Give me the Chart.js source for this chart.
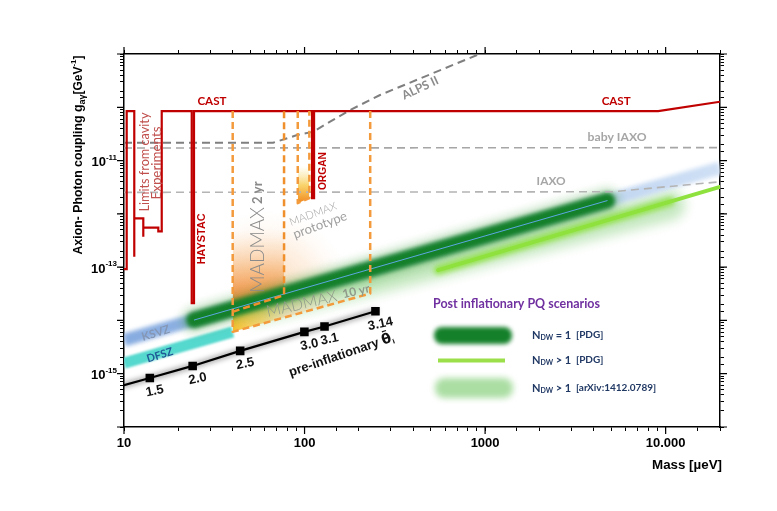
<!DOCTYPE html>
<html>
<head>
<meta charset="utf-8">
<script src="https://cdn.jsdelivr.net/npm/chart.js@4.4.1/dist/chart.umd.min.js"></script>
<style>
  html, body { margin: 0; padding: 0; background: #fff; }
  canvas { display: block; }
</style>
</head>
<body>
<canvas id="grafico" width="777" height="511"></canvas>
<script>
// ejes
const massMin = 10, massMax = 20000;
const gMin = 1e-16, gMax = 1e-9;
const massLabelValues = [10, 100, 1000, 10000];
const massLabelText = ['10', '100', '1000', '10.000'];
const gLabelValues = [1e-11, 1e-13, 1e-15];
const gLabelExp = ['-11', '-13', '-15'];

// CAST + limites de cavidades (HAYSTAC, ORGAN)
const castMass = [10, 10.35, 10.35, 11.4, 11.4, 11.4, 12.79, 12.79, 12.79, 15.49, 15.49, 16.18, 16.18, 23.72, 23.72, 24.42, 24.42, 110, 110, 112.9, 112.9, 9090, 20000];
const castG = [9.2e-14, 9.2e-14, 8.5e-11, 8.5e-11, 1.56e-13, 8.2e-13, 8.2e-13, 3.7e-13, 5.5e-13, 5.5e-13, 4.7e-13, 4.7e-13, 8.5e-11, 8.5e-11, 2.1e-14, 2.1e-14, 8.5e-11, 8.5e-11, 1.98e-12, 1.98e-12, 8.5e-11, 8.5e-11, 1.27e-10];

// proyecciones (discontinuas)
const alpsMass = [10, 66.9, 90.9, 111.4, 138.5, 178.7, 262, 903, 1100];
const alpsG = [2.16e-11, 2.16e-11, 3.01e-11, 3.47e-11, 5.36e-11, 8.88e-11, 1.7e-10, 9.58e-10, 1.27e-9];
const babyIaxoMass = [10, 20000];
const babyIaxoG = [1.72e-11, 1.75e-11];
const iaxoMass = [10, 5100, 20000];
const iaxoG = [2.53e-12, 2.6e-12, 4.0e-12];

// modelos
const ksvzMass = [10, 20000];
const ksvzG = [4.27e-15, 7.24e-12];
const dfszMass = [10, 40];
const dfszG = [1.58e-15, 6.1e-15];

// escenarios post-inflacionarios
const ndw1Mass = [24.5, 4740];
const ndw1G = [1.02e-14, 1.77e-12];
const ndwPdgMass = [550, 20000];
const ndwPdgG = [8.8e-14, 3.2e-12];
const ndwPdgWideMass = [550, 10600];
const ndwPdgWideG = [8.8e-14, 1.7e-12];
const ndwArxivMass = [55, 10600];
const ndwArxivG = [1.7e-14, 1.46e-12];

// pre-inflacionario
const preMass = [10, 13.9, 24.0, 44, 99.8, 129, 247];
const preG = [6.1e-16, 8.3e-16, 1.4e-15, 2.68e-15, 6.1e-15, 7.7e-15, 1.49e-14];
const preTheta = ['', '1.5', '2.0', '2.5', '3.0', '3.1', '3.14'];

// MADMAX
const madmaxTop = 8.5e-11;
const mm10Mass = [40, 40, 231, 231];
const mm10G = [madmaxTop, 6.1e-15, 3.2e-14, madmaxTop];
const mm10LowMass = [40, 231];
const mm10LowG = [6.1e-15, 3.2e-14];
const mm10TopG = [madmaxTop, madmaxTop];
const mm2Mass = [40, 77, 77];
const mm2G = [1.45e-14, 2.98e-14, madmaxTop];
const mm2LowMass = [40, 77];
const mm2LowG = [1.45e-14, 2.98e-14];
const mmYellowLowG = [6.1e-15, 1.15e-14];
const protoMass = [91.7, 91.7, 106.3, 106.3];
const protoG = [madmaxTop, 1.59e-12, 1.98e-12, madmaxTop];
const protoLowMass = [91.7, 106.3];
const protoLowG = [1.59e-12, 1.98e-12];

const SANS = 'Liberation Sans';
const CAL = 'Lato';

function pts(ms, gs) { return ms.map((m, i) => ({x: m, y: gs[i]})); }

function gradV(chart, gFrom, gTo, stops) {
  const ys = chart.scales.y;
  if (!chart.chartArea || !ys) return 'rgba(0,0,0,0)';
  const gr = chart.ctx.createLinearGradient(0, ys.getPixelForValue(gFrom), 0, ys.getPixelForValue(gTo));
  stops.forEach(s => gr.addColorStop(s[0], s[1]));
  return gr;
}
function gradH(chart, mFrom, mTo, stops) {
  const xs = chart.scales.x;
  if (!chart.chartArea || !xs) return 'rgba(0,0,0,0)';
  const gr = chart.ctx.createLinearGradient(xs.getPixelForValue(mFrom), 0, xs.getPixelForValue(mTo), 0);
  stops.forEach(s => gr.addColorStop(s[0], s[1]));
  return gr;
}
function gradR(chart, m, g, r, stops) {
  const xs = chart.scales.x, ys = chart.scales.y;
  if (!chart.chartArea || !xs) return 'rgba(0,0,0,0)';
  const x = xs.getPixelForValue(m), y = ys.getPixelForValue(g);
  const gr = chart.ctx.createRadialGradient(x, y, 0, x, y, r);
  stops.forEach(s => gr.addColorStop(s[0], s[1]));
  return gr;
}

// capas de atras hacia delante
const capas = [];
function add(ds) {
  const base = {pointRadius: 0, pointHoverRadius: 0, fill: false, tension: 0, clip: 0, borderCapStyle: 'round', borderJoinStyle: 'round'};
  const d = Object.assign(base, ds);
  d.order = -capas.length;
  capas.push(d);
  return capas.length - 1;
}

add({label: 'NDW>1 arXiv', data: pts(ndwArxivMass, ndwArxivG), borderColor: 'rgba(150,214,140,0.55)', borderWidth: 30, blur: 6});
add({label: 'KSVZ', data: pts(ksvzMass, ksvzG), borderWidth: 13, blur: 2, borderCapStyle: 'butt',
  borderColor: c => gradH(c.chart, massMin, massMax, [[0, '#86abe0'], [1, '#cfe0f5']])});
add({label: 'DFSZ', data: pts(dfszMass, dfszG), borderColor: '#55d8ce', borderWidth: 11, blur: 1.2, borderCapStyle: 'butt'});
const iTop10 = add({label: 'MADMAX techo', data: pts(mm10LowMass, mm10TopG), borderWidth: 0});
add({label: 'MADMAX 10yr halo', data: pts(mm10LowMass, mm10LowG), borderWidth: 0, fill: {target: iTop10},
  backgroundColor: c => gradR(c.chart, 62, 3e-14, 85, [[0, 'rgba(245,165,90,0.5)'], [0.6, 'rgba(250,200,150,0.25)'], [1, 'rgba(255,230,210,0)']])});
const iMm2 = add({label: 'MADMAX 2yr', data: pts(mm2LowMass, mm2LowG), borderWidth: 0, fill: 'end',
  backgroundColor: c => gradV(c.chart, 2.2e-14, 5e-13, [[0, 'rgba(238,125,38,0.95)'], [0.45, 'rgba(244,165,90,0.55)'], [1, 'rgba(252,215,180,0)']])});
add({label: 'MADMAX 10yr relleno', data: pts(mm2LowMass, mmYellowLowG), borderWidth: 0, fill: {target: iMm2},
  backgroundColor: c => gradH(c.chart, 40, 77, [[0, 'rgba(246,188,35,0.95)'], [0.6, 'rgba(240,205,70,0.6)'], [1, 'rgba(210,220,120,0.15)']])});
add({label: 'prototipo', data: pts(protoLowMass, protoLowG), borderWidth: 0, fill: 'end',
  backgroundColor: c => gradV(c.chart, 1.7e-12, 8e-12, [[0, 'rgba(240,135,25,0.95)'], [0.45, 'rgba(247,195,55,0.75)'], [1, 'rgba(250,225,120,0)']])});
add({label: 'NDW=1 halo', data: pts(ndw1Mass, ndw1G), borderColor: 'rgba(70,160,70,0.35)', borderWidth: 25, blur: 5});
add({label: 'NDW=1', data: pts(ndw1Mass, ndw1G), borderColor: '#14802a', borderWidth: 16, blur: 2});
add({label: 'KSVZ linea', data: pts(ndw1Mass, ndw1G), borderColor: '#5ba7e0', borderWidth: 1});
add({label: 'NDW>1 PDG ancho', data: pts(ndwPdgWideMass, ndwPdgWideG), borderColor: 'rgba(140,226,60,0.85)', borderWidth: 9, blur: 2.5});
add({label: 'NDW>1 PDG', data: pts(ndwPdgMass, ndwPdgG), borderColor: '#8fe23e', borderWidth: 4, blur: 0.5});
add({label: 'baby IAXO', data: pts(babyIaxoMass, babyIaxoG), borderColor: '#a6a6a6', borderWidth: 1.6, borderDash: [8, 5], borderCapStyle: 'butt'});
add({label: 'IAXO', data: pts(iaxoMass, iaxoG), borderColor: '#b4b4b4', borderWidth: 1.6, borderDash: [8, 5], borderCapStyle: 'butt'});
add({label: 'ALPS II', data: pts(alpsMass, alpsG), borderColor: '#7f7f7f', borderWidth: 2, borderDash: [8, 5], borderCapStyle: 'butt'});
add({label: 'CAST', data: pts(castMass, castG), borderColor: '#c00000', borderWidth: 2.2, borderJoinStyle: 'miter', borderCapStyle: 'butt'});
add({label: 'MADMAX 10 yr', data: pts(mm10Mass, mm10G), borderColor: '#f39b3c', borderWidth: 2.5, borderDash: [7, 4], borderCapStyle: 'butt'});
add({label: 'MADMAX 2 yr', data: pts(mm2Mass, mm2G), borderColor: '#f0902c', borderWidth: 2.5, borderDash: [7, 4], borderCapStyle: 'butt'});
add({label: 'MADMAX prototype', data: pts(protoMass, protoG), borderColor: '#f39b3c', borderWidth: 2.5, borderDash: [7, 4], borderCapStyle: 'butt'});
add({label: 'pre sombra', data: pts(preMass, preG), borderColor: 'rgba(0,0,0,0.3)', borderWidth: 6, blur: 2.5});
add({label: 'pre-inflationary', data: pts(preMass, preG), borderColor: '#000', borderWidth: 2.2,
  pointStyle: 'rect', pointRadius: preTheta.map(t => t ? 4.5 : 0), pointBackgroundColor: '#000', pointBorderColor: '#000'});

// desenfoque por dataset
const plugBlur = {
  id: 'blur',
  beforeDatasetDraw(chart, args) {
    const b = chart.data.datasets[args.index].blur;
    if (b) { chart.ctx.save(); chart.ctx.filter = 'blur(' + b + 'px)'; }
  },
  afterDatasetDraw(chart, args) {
    if (chart.data.datasets[args.index].blur) chart.ctx.restore();
  }
};

function rich(ctx, x, y, parts, rot, align) {
  ctx.save();
  ctx.translate(x, y);
  ctx.rotate((rot || 0) * Math.PI / 180);
  let w = 0;
  parts.forEach(p => { ctx.font = p.font; w += ctx.measureText(p.t).width; });
  let cx = align === 'left' ? 0 : (align === 'right' ? -w : -w / 2);
  ctx.textBaseline = 'middle';
  ctx.textAlign = 'left';
  parts.forEach(p => {
    ctx.font = p.font;
    ctx.fillStyle = p.color;
    ctx.fillText(p.t, cx, p.dy || 0);
    cx += ctx.measureText(p.t).width;
  });
  ctx.restore();
  return w;
}

// texto ajustado a un ancho
function fitFont(ctx, t, weight, family, size, w) {
  if (!w) return weight + ' ' + size + 'px "' + family + '"';
  ctx.font = weight + ' ' + size + 'px "' + family + '"';
  const s = size * w / ctx.measureText(t).width;
  return weight + ' ' + s.toFixed(2) + 'px "' + family + '"';
}

const anotaciones = [
  {t: 'CAST', m: 30.7, g: 1.27e-10, rot: 0, wt: 'bold', fam: CAL, size: 12, w: 29, color: '#c00000'},
  {t: 'CAST', m: 5320, g: 1.27e-10, rot: 0, wt: 'bold', fam: CAL, size: 12, w: 29, color: '#c00000'},
  {t: 'Limits from cavity', m: 13.07, g: 9.4e-12, rot: -90, wt: 'normal', fam: CAL, size: 13, w: 99, color: '#c0504d'},
  {t: 'Experiments', m: 15.2, g: 9.0e-12, rot: -90, wt: 'normal', fam: CAL, size: 13, w: 73, color: '#c0504d'},
  {t: 'HAYSTAC', m: 26.9, g: 3.4e-13, rot: -90, wt: 'bold', fam: SANS, size: 11, w: 51, color: '#c00000'},
  {t: 'ORGAN', m: 126.6, g: 6.35e-12, rot: -90, wt: 'bold', fam: SANS, size: 11, w: 38, color: '#c00000'},
  {t: 'ALPS II', m: 437, g: 2.3e-10, rot: -25, wt: 'bold', fam: CAL, size: 12, w: 39, color: '#8c8c8c'},
  {t: 'baby IAXO', m: 5385, g: 2.8e-11, rot: 0, wt: 'bold', fam: CAL, size: 12, w: 59, color: '#a6a6a6'},
  {t: 'IAXO', m: 2321, g: 4.17e-12, rot: 0, wt: 'bold', fam: CAL, size: 12, w: 29, color: '#a6a6a6'},
  {t: 'KSVZ', m: 15.0, g: 5.77e-15, rot: -17, wt: 'bold', fam: CAL, size: 12, w: 29, color: '#8597b5'},
  {t: 'DFSZ', m: 15.8, g: 2.22e-15, rot: -17, wt: 'bold', fam: CAL, size: 12, w: 27, color: '#1f5a96'}
];

const plugTextos = {
  id: 'textos',
  afterDatasetsDraw(chart) {
    const ctx = chart.ctx, xs = chart.scales.x, ys = chart.scales.y;
    const X = m => xs.getPixelForValue(m), Y = g => ys.getPixelForValue(g);

    anotaciones.forEach(a => {
      const f = fitFont(ctx, a.t, a.wt, a.fam, a.size, a.w);
      rich(ctx, X(a.m), Y(a.g), [{t: a.t, font: f, color: a.color}], a.rot);
    });

    // MADMAX
    const gris = '#8a8a8a';
    rich(ctx, X(55.2), Y(3.66e-13), [
      {t: 'MADMAX', font: '300 19px "Lato"', color: gris},
      {t: ' 2 yr', font: 'bold 13px "Lato"', color: gris}], -90);
    rich(ctx, X(118.8), Y(2.4e-14), [
      {t: 'MADMAX', font: '300 16px "Lato"', color: '#8f9a8a'},
      {t: '  10 yr', font: 'bold 12px "Lato"', color: '#8f9a8a'}], -13);
    rich(ctx, X(111.4), Y(9.9e-13), [{t: 'MADMAX', font: '300 11px "Lato"', color: '#a0a0a0'}], -20);
    rich(ctx, X(121.9), Y(6.15e-13), [{t: 'prototype', font: 'normal 13px "Lato"', color: '#a0a0a0'}], -20);

    // etiquetas theta
    const meta = chart.getDatasetMeta(capas.length - 1);
    meta.data.forEach((p, i) => {
      if (!preTheta[i]) return;
      rich(ctx, p.x + 5, p.y + 13, [{t: preTheta[i], font: 'bold 13px "' + SANS + '"', color: '#111'}], -12);
    });
    rich(ctx, X(160), Y(2.22e-15), [
      {t: 'pre-inflationary ', font: 'bold 13px "' + SANS + '"', color: '#111'},
      {t: 'θ\u0304', font: 'bold 14px "DejaVu Sans"', color: '#111'},
      {t: 'ᵢ', font: 'bold 11px "DejaVu Sans"', color: '#111', dy: 3}], -19);
  },
  afterDraw(chart) {
    const ctx = chart.ctx, ys = chart.scales.y, ca = chart.chartArea;

    // etiquetas del eje y
    gLabelValues.forEach((v, i) => {
      const y = ys.getPixelForValue(v);
      rich(ctx, ca.left - 7, y + 2, [
        {t: '10', font: 'bold 13px "' + SANS + '"', color: '#000'},
        {t: gLabelExp[i], font: 'bold 8px "' + SANS + '"', color: '#000', dy: -5}], 0, 'right');
    });

    // titulo eje y
    const ft = fitFont(ctx, 'Axion- Photon coupling g', 'bold', SANS, 13, 150);
    rich(ctx, 79, 155, [
      {t: 'Axion- Photon coupling g', font: ft, color: '#000'},
      {t: 'aγ', font: 'bold 9px "' + SANS + '"', color: '#000', dy: 4},
      {t: '[GeV', font: 'bold 12px "' + SANS + '"', color: '#000'},
      {t: '-1', font: 'bold 8px "' + SANS + '"', color: '#000', dy: -5},
      {t: ']', font: 'bold 12px "' + SANS + '"', color: '#000'}], -90);

    // titulo eje x
    rich(ctx, 722, 465, [{t: 'Mass [µeV]', font: fitFont(ctx, 'Mass [µeV]', 'bold', SANS, 13, 70), color: '#000'}], 0, 'right');

    // marcas mayores
    ctx.save();
    ctx.strokeStyle = '#000';
    ctx.lineWidth = 1.2;
    const xs = chart.scales.x;
    [10, 100, 1000, 10000].forEach(m => {
      const x = xs.getPixelForValue(m);
      ctx.beginPath();
      ctx.moveTo(x, ca.bottom); ctx.lineTo(x, ca.bottom + 7);
      ctx.moveTo(x, ca.top); ctx.lineTo(x, ca.top - 7);
      ctx.stroke();
    });
    for (let e = -16; e <= -9; e++) {
      const y = ys.getPixelForValue(Math.pow(10, e));
      ctx.beginPath();
      ctx.moveTo(ca.left, y); ctx.lineTo(ca.left - 7, y);
      ctx.moveTo(ca.right, y); ctx.lineTo(ca.right + 7, y);
      ctx.stroke();
    }
    ctx.restore();

    // leyenda
    ctx.save();
    ctx.filter = 'blur(2px)';
    ctx.fillStyle = '#14802a';
    ctx.beginPath(); ctx.roundRect(434, 327, 78, 17, 8); ctx.fill();
    ctx.filter = 'blur(3px)';
    ctx.fillStyle = 'rgba(150,214,140,0.8)';
    ctx.beginPath(); ctx.roundRect(435, 378, 78, 20, 9); ctx.fill();
    ctx.filter = 'blur(0.6px)';
    ctx.strokeStyle = '#9be04a';
    ctx.lineWidth = 4;
    ctx.beginPath(); ctx.moveTo(438, 360.5); ctx.lineTo(505, 360.5); ctx.stroke();
    ctx.restore();

    rich(ctx, 433, 304, [{t: 'Post inflationary PQ scenarios', font: fitFont(ctx, 'Post inflationary PQ scenarios', 'bold', CAL, 14, 167), color: '#7030a0'}], 0, 'left');
    const azul = '#203864';
    const leg = [[335, ' = 1', '[PDG]'], [360, ' > 1', '[PDG]'], [388, ' > 1', '[arXiv:1412.0789]']];
    leg.forEach(l => {
      rich(ctx, 532, l[0], [
        {t: 'N', font: 'bold 11px "' + CAL + '"', color: azul},
        {t: 'DW', font: 'bold 7px "' + CAL + '"', color: azul, dy: 3},
        {t: l[1], font: 'bold 11px "' + CAL + '"', color: azul}], 0, 'left');
      rich(ctx, 576, l[0], [{t: l[2], font: 'bold 10px "' + CAL + '"', color: azul}], 0, 'left');
    });
  }
};

function ejeLog(pos, min, max, size, horizontal) {
  const s = {
    type: 'logarithmic', position: pos, min: min, max: max,
    grid: {drawOnChartArea: false, color: '#000', tickLength: 4, lineWidth: 1},
    border: {color: '#000', width: 1.5},
    ticks: {display: false, autoSkip: false}
  };
  s.afterFit = horizontal ? (sc => { sc.height = size; }) : (sc => { sc.width = size; });
  return s;
}

const escalaX = ejeLog('bottom', massMin, massMax, 84, true);
escalaX.ticks = {
  display: true, autoSkip: false, maxRotation: 0, padding: 5, color: '#000',
  font: {family: SANS, size: 13, weight: 'bold'},
  callback: v => {
    const i = massLabelValues.findIndex(t => Math.abs(Math.log10(t) - Math.log10(v)) < 1e-6);
    return i >= 0 ? massLabelText[i] : '';
  }
};
const escalaY = ejeLog('left', gMin, gMax, 124, false);
escalaY.ticks = {display: true, autoSkip: false, callback: () => ''};

new Chart(document.getElementById('grafico'), {
  type: 'line',
  data: {datasets: capas},
  options: {
    responsive: false,
    animation: false,
    layout: {padding: 0},
    plugins: {legend: {display: false}, tooltip: {enabled: false}},
    scales: {
      x: escalaX,
      y: escalaY,
      x2: ejeLog('top', massMin, massMax, 54, true),
      y2: ejeLog('right', gMin, gMax, 57, false)
    }
  },
  plugins: [plugBlur, plugTextos]
});
</script>
</body>
</html>
